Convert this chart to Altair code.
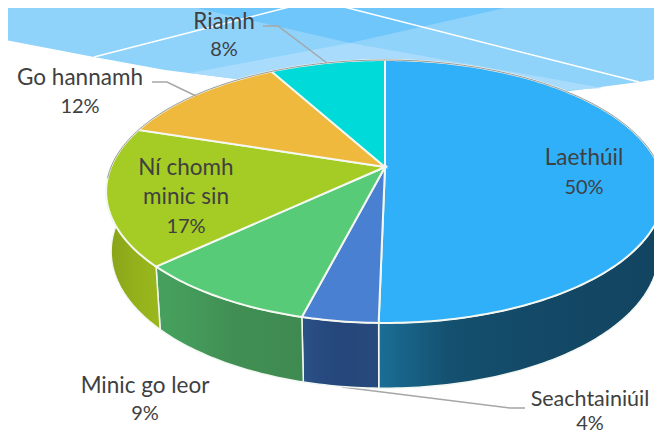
import math
import altair as alt

# ---------- data ----------
categories = ["Laethúil", "Seachtainiúil", "Minic go leor", "Ní chomh minic sin", "Go hannamh", "Riamh"]
shares = [50.3, 3.7, 9.0, 17.0, 12.0, 8.0]
percent_labels = ["50%", "4%", "9%", "17%", "12%", "8%"]
top_colors = ["#2FB0F8", "#4A80D2", "#58CB78", "#A4CC24", "#EEB93C", "#00DBD9"]

# ---------- layout / style (not data) ----------
CX, CY, RX, RY, K = 385.0, 167.0, 274.0, 95.8, 0.1863  # perspective of the disc
SIDE_SHRINK, SIDE_DROP, SIDE_GROW = 0.982, 59.0, 0.04
FONT = "Lato"
TEXT = "#404040"


def top(angle):
    a = math.radians(angle)
    u, v = math.sin(a), math.cos(a)
    d = 1 + K * v
    return [CX + RX * u / d, (CY - RY * v) / d]


def base(angle):
    x, y = top(angle)
    return [CX + SIDE_SHRINK * (x - CX), y + SIDE_DROP + (y - CY) * SIDE_GROW]


def arc(fn, a0, a1):
    n = max(2, int(abs(a1 - a0)) + 1)
    return [fn(a0 + (a1 - a0) * i / n) for i in range(n + 1)]


def poly(points, **props):
    return {"type": "Feature", "properties": props,
            "geometry": {"type": "Polygon", "coordinates": [points + [points[0]]]}}


def line(points, **props):
    return {"type": "Feature", "properties": props,
            "geometry": {"type": "LineString", "coordinates": points}}


PROJ = dict(type="identity", scale=1, translate=[-8, -8])


def shapes(features, **mark):
    return (alt.Chart(alt.Data(values=features)).mark_geoshape(**mark).project(**PROJ))


# ---------- wedge angles from the shares ----------
edges = [0.0]
for s in shares:
    edges.append(edges[-1] + s * 3.6)

# ---------- backdrop ----------
curve = [[662, 78], [639, 82], [570, 91], [480, 95], [330, 88], [236, 79], [165, 70], [94, 57], [0, 39]]
layers = [
    shapes([poly([[0, 0], [662, 0]] + curve)], fill="#8FD3FB", stroke=None),
    shapes([poly([[190, 73], [350, 43], [603, 88], [480, 95], [330, 88], [236, 79]])], fill="#A9DCFC", stroke=None),
    shapes([poly([[162, 0], [540, 0], [350, 43]])], fill="#6EC6FB", stroke=None),
    shapes([line([[94, 57], [316.5, 0], [639, 82]])], filled=False, stroke="white", strokeWidth=1.5),
]

# ---------- leader under the disc ----------
layers.append(shapes([line([[525, 408], [510, 408], [342, 387]])], filled=False, stroke="#A6A6A6", strokeWidth=1.5))

# ---------- sides ----------
side_gradients = {
    0: ["#1B6E96", "#14506F", "#134A68", "#124460"],
    1: ["#2B5288", "#274A80", "#25467A", "#274A7C"],
    2: ["#47A15E", "#449A5A", "#418F54", "#3F8A50"],
    3: ["#89A31A", "#8DA81A", "#93B01C", "#9AB81C"],
}
for i, stops in side_gradients.items():
    a0, a1 = max(edges[i], 85), min(edges[i + 1], 275)
    outline = arc(top, a0, a1) + arc(base, a1, a0)
    grad = alt.LinearGradient(
        gradient="linear", x1=0, x2=1, y1=0, y2=0,
        stops=[alt.GradientStop(offset=o, color=c) for o, c in zip([0, 0.25, 0.5, 1], stops)],
    )
    layers.append(shapes([poly(outline)], fill=grad, stroke="#F2F7F2", strokeWidth=1.5))

# ---------- top face ----------
for i, col in enumerate(top_colors):
    pts = [[CX, CY]] + arc(top, edges[i], edges[i + 1])
    layers.append(shapes([poly(pts)], fill=col, stroke="#F4F8F0", strokeWidth=2))
layers.append(shapes([line(arc(top, -95, 95))], filled=False, stroke="#9A9A9A", strokeWidth=1))

# ---------- leaders ----------
layers.append(shapes([line([[263, 26], [278, 26], [327, 63]]), line([[152, 82], [167, 82], [196, 96]])],
                     filled=False, stroke="#A6A6A6", strokeWidth=1.5))

# ---------- labels ----------
label_layout = [
    (["Laethúil"], percent_labels[0], 584, [158, 188], 22.5),
    (["Seachtainiúil"], percent_labels[1], 590, [400, 424], 21.5),
    (["Minic go leor"], percent_labels[2], 145, [386, 414], 22.5),
    (["Ní chomh", "minic sin"], percent_labels[3], 186, [168, 197, 227], 22.5),
    (["Go hannamh"], percent_labels[4], 80, [78, 107], 22.5),
    (["Riamh"], percent_labels[5], 224, [22, 50], 22.5),
]
rows = []
for names, pct, x, ys, size in label_layout:
    for txt, y in zip(names + [pct], ys):
        rows.append({"t": txt, "lon": x, "lat": y, "size": 20 if txt == pct else size})
labels = (
    alt.Chart(alt.Data(values=rows))
    .mark_text(font=FONT, color=TEXT, baseline="middle", align="center")
    .encode(longitude="lon:Q", latitude="lat:Q", text="t:N",
            size=alt.Size("size:Q", scale=None, legend=None))
    .project(**PROJ)
)
layers.append(labels)

chart = (
    alt.layer(*layers)
    .properties(width=646, height=425, padding=0, autosize=alt.AutoSizeParams(type="none"), background="white")
    .configure_view(stroke=None)
)
chart.save("out.html", embed_options={"renderer": "svg", "actions": False})
